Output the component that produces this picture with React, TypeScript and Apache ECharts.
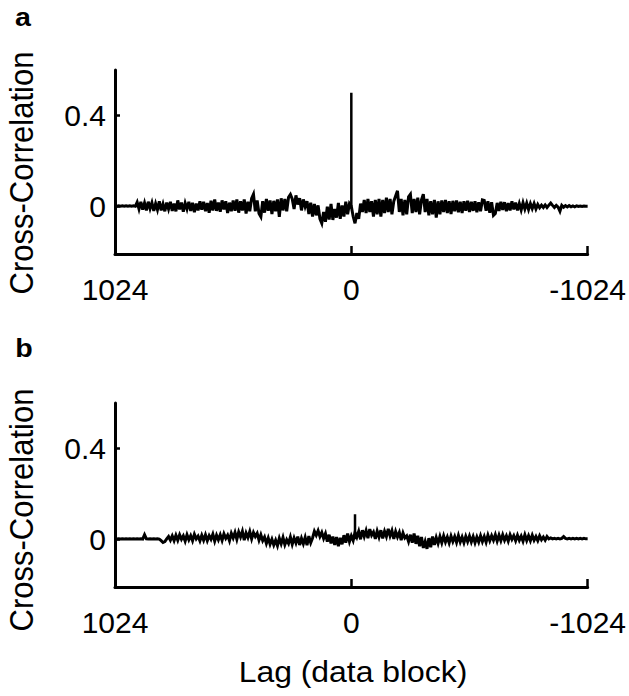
import React, { useEffect, useRef } from "react";
import * as echarts from "echarts";

// Lag grid: one value every LAG_STEP data blocks, from +1024 down to -1024
const LAG_START = 1024;
const LAG_STEP = 8;

// Panel a: cross-correlation values
const valuesA = [
  0.002, 0, 0.002, 0, 0.002, 0, 0.002, 0, 0.002, 0, 0.002, 0, 0.018, -0.012, 0.02, -0.015,
  0.015, -0.018, 0.02, -0.01, 0.016, -0.02, 0.012, -0.015, 0.022, -0.018, 0.01, -0.022, 0.016, -0.012, 0.02, -0.02,
  0.012, -0.022, 0.026, -0.014, 0.016, -0.024, 0.014, -0.012, 0.02, -0.02, 0.015, -0.026, 0.012, -0.018, 0.022, -0.015,
  0.02, -0.022, 0.014, -0.028, 0.024, -0.018, 0.03, -0.02, 0.016, -0.024, 0.026, -0.014, 0.022, -0.03, 0.016, -0.022,
  0.026, -0.02, 0.03, -0.028, 0.022, -0.018, 0.03, -0.032, 0.02, -0.022, 0.035, 0.053, -0.022, 0.026, -0.032, -0.046,
  0.022, -0.028, 0.032, -0.02, 0.026, -0.034, 0.024, -0.022, 0.03, -0.046, 0.035, -0.018, 0.032, -0.022, 0.04, 0.052,
  0.032, -0.012, 0.048, 0.008, 0.036, -0.018, 0.03, -0.002, 0.022, -0.034, 0.016, -0.045, 0.01, -0.04, 0.004, -0.055,
  -0.075, -0.025, -0.068, -0.002, -0.058, 0.01, -0.06, -0.012, -0.05, 0.015, -0.055, 0.004, -0.045, 0.02, -0.035, 0.012,
  0.0, -0.045, -0.075, -0.03, -0.055, 0.012, -0.025, 0.028, -0.03, 0.032, -0.025, 0.022, -0.045, 0.028, -0.035, 0.032,
  -0.045, 0.028, -0.03, 0.038, -0.025, 0.032, -0.035, 0.022, 0.045, 0.068, -0.025, 0.032, -0.04, 0.028, -0.035, 0.042,
  0.053, -0.03, 0.032, -0.025, 0.038, -0.035, 0.028, 0.053, -0.025, 0.032, -0.04, 0.022, -0.035, 0.028, -0.05, 0.022,
  -0.035, 0.026, -0.025, 0.028, -0.03, 0.022, -0.034, 0.024, -0.022, 0.026, -0.026, 0.02, -0.03, 0.022, -0.02, 0.024,
  -0.025, 0.02, -0.02, 0.022, -0.026, 0.018, -0.022, 0.028, 0.026, -0.02, 0.022, -0.028, 0.018, -0.04, -0.032, 0.015,
  -0.02, 0.02, -0.016, 0.018, -0.022, 0.014, -0.018, 0.022, -0.014, 0.016, -0.018, 0.012, -0.016, 0.016, -0.012, 0.014,
  -0.014, 0.012, -0.01, 0.012, -0.012, 0.008, -0.006, 0.005, -0.005, 0.006, -0.005, 0.005, 0.014, 0.004, -0.005, 0.004,
  -0.004, -0.022, 0.004, -0.004, 0.003, -0.003, 0.003, -0.002, 0.002, -0.002, 0.002, -0.001, 0.001, -0.001, 0.001, 0,
  0,
];
const peakA = { lag: 0, value: 0.5 };

// Panel b: cross-correlation values
const valuesB = [
  0.002, 0.001, 0.002, 0.001, 0.002, 0.001, 0.002, 0.001, 0.002, 0.001, 0.002, 0.001, 0.002, 0.001, 0.002, 0.001,
  0.02, 0.002, 0.001, 0.002, 0.001, 0.002, 0.001, 0.002, 0.001, -0.006, -0.014, -0.01, 0.002, 0.012, -0.004, 0.015,
  -0.006, 0.018, -0.004, 0.02, 0.0, 0.015, -0.008, 0.02, -0.002, 0.016, -0.006, 0.022, 0.002, 0.014, -0.007, 0.018,
  -0.004, 0.02, -0.006, 0.016, 0.0, 0.022, -0.008, 0.018, -0.002, 0.02, -0.005, 0.024, 0.004, 0.018, -0.006, 0.026,
  0.006, 0.03, 0.0, 0.032, 0.01, 0.035, -0.004, 0.028, 0.008, 0.034, 0.002, 0.03, 0.012, 0.026, -0.004, 0.02,
  -0.006, 0.01, -0.018, 0.006, -0.022, 0.0, -0.025, -0.004, -0.028, 0.004, -0.02, 0.008, -0.024, -0.002, -0.018, 0.01,
  -0.022, 0.006, -0.016, 0.012, -0.025, 0.004, -0.02, 0.008, -0.026, 0.014, -0.015, 0.006, 0.035, 0.018, 0.038, 0.012,
  0.03, 0.004, 0.025, -0.01, 0.02, -0.018, 0.012, -0.025, 0.01, -0.03, 0.006, -0.022, 0.018, -0.015, 0.025, -0.01,
  0.015, -0.005, 0.03, 0.01, 0.035, 0.0, 0.04, 0.012, 0.038, 0.005, 0.045, 0.018, 0.032, 0.002, 0.036, 0.01,
  0.04, 0.004, 0.035, 0.012, 0.046, 0.015, 0.038, 0.002, 0.034, 0.01, 0.03, -0.004, 0.028, 0.006, 0.015, -0.01,
  0.02, -0.015, 0.025, -0.02, 0.015, -0.03, 0.01, -0.038, -0.01, -0.042, 0.005, -0.035, 0.012, -0.025, 0.008, -0.018,
  0.012, -0.015, 0.015, -0.012, 0.01, -0.016, 0.014, -0.01, 0.012, -0.014, 0.016, -0.012, 0.01, -0.015, 0.013, -0.01,
  0.014, -0.012, 0.012, -0.015, 0.01, -0.012, 0.015, -0.01, 0.012, -0.013, 0.018, -0.006, 0.016, -0.004, 0.02, -0.008,
  0.018, -0.006, 0.02, -0.004, 0.015, -0.008, 0.02, 0.0, 0.016, -0.006, 0.018, -0.004, 0.014, -0.008, 0.02, -0.005,
  0.016, -0.006, 0.018, -0.004, 0.012, -0.006, 0.015, -0.002, 0.01, -0.004, 0.012, 0.002, 0.006, 0.002, 0.004, 0.002,
  0.004, 0.002, 0.004, 0.012, 0.004, 0.002, 0.004, 0.002, 0.004, 0.002, 0.004, 0.002, 0.004, 0.002, 0.004, 0.002,
  0.002,
];
const peakB = { lag: -16, value: 0.11 };

const xTickValues = [1024, 0, -1024];
const yTickValues = [0, 0.4];
const Y_MIN = -0.21;
const Y_MAX = 0.6;

const FONT = "'Liberation Sans', Arial, Helvetica, sans-serif";

function toPairs(values: number[]) {
  return values.map((v, i) => [LAG_START - i * LAG_STEP, v]);
}

export default function App() {
  const ref = useRef<HTMLDivElement>(null);

  useEffect(() => {
    if (!ref.current) return;
    const chart = echarts.init(ref.current, null, { renderer: "svg" });

    const grids = [
      { left: 115, top: 70, width: 475, height: 184 },
      { left: 115, top: 403, width: 475, height: 184 },
    ];

    const xAxes = grids.map((_, k) => ({
      type: "value",
      gridIndex: k,
      min: xTickValues[2],
      max: xTickValues[0],
      interval: 1024,
      inverse: true,
      axisLine: { onZero: false, lineStyle: { color: "#000", width: 3 } },
      axisTick: { inside: true, length: 8, lineStyle: { color: "#000", width: 2.5 } },
      axisLabel: {
        fontSize: 30,
        color: "#000",
        margin: 20,
        fontFamily: FONT,
        formatter: (v: number) => String(v),
      },
      splitLine: { show: false },
    }));

    const yAxes = grids.map((_, k) => ({
      type: "value",
      gridIndex: k,
      min: Y_MIN,
      max: Y_MAX,
      axisLine: { onZero: false, lineStyle: { color: "#000", width: 3 } },
      axisTick: {
        inside: true,
        length: 5,
        customValues: yTickValues,
        lineStyle: { color: "#000", width: 2.5 },
      },
      axisLabel: {
        fontSize: 30,
        color: "#000",
        margin: 9,
        fontFamily: FONT,
        customValues: yTickValues,
        formatter: (v: number) => String(v),
      },
      splitLine: { show: false },
    }));

    const lineSeries = (values: number[], k: number) => ({
      type: "line",
      xAxisIndex: k,
      yAxisIndex: k,
      data: toPairs(values),
      showSymbol: false,
      symbol: "none",
      lineStyle: { color: "#000", width: 3, join: "miter", miterLimit: 4 },
      z: 3,
    });
    const peakSeries = (p: { lag: number; value: number }, k: number) => ({
      type: "line",
      xAxisIndex: k,
      yAxisIndex: k,
      data: [
        [p.lag, 0],
        [p.lag, p.value],
      ],
      showSymbol: false,
      symbol: "none",
      lineStyle: { color: "#000", width: 2.5 },
      z: 4,
    });

    const text = (t: string, x: number, y: number, size: number, extra: any = {}) => ({
      type: "text",
      x,
      y,
      ...extra,
      style: {
        text: t,
        fontSize: size,
        fontFamily: FONT,
        fill: "#000",
        textAlign: "center",
        textVerticalAlign: "middle",
        ...(extra.style || {}),
      },
    });

    chart.setOption({
      animation: false,
      backgroundColor: "#fff",
      grid: grids,
      xAxis: xAxes,
      yAxis: yAxes,
      series: [
        lineSeries(valuesA, 0),
        peakSeries(peakA, 0),
        lineSeries(valuesB, 1),
        peakSeries(peakB, 1),
      ],
      graphic: [
        text("a", 23, 17, 26, { scaleX: 1.1, style: { fontWeight: "bold" } }),
        text("b", 24, 348, 26, { scaleX: 1.1, style: { fontWeight: "bold" } }),
        text("Cross-Correlation", 21, 173, 31, { rotation: Math.PI / 2, scaleY: 1.1 }),
        text("Cross-Correlation", 21, 510, 31, { rotation: Math.PI / 2, scaleY: 1.1 }),
        text("Lag (data block)", 353, 672, 29, { scaleX: 1.1 }),
      ],
    });

    return () => chart.dispose();
  }, []);

  return (
    <div
      ref={ref}
      style={{ position: "fixed", left: 0, top: 0, width: 629, height: 696, background: "#fff" }}
    />
  );
}
